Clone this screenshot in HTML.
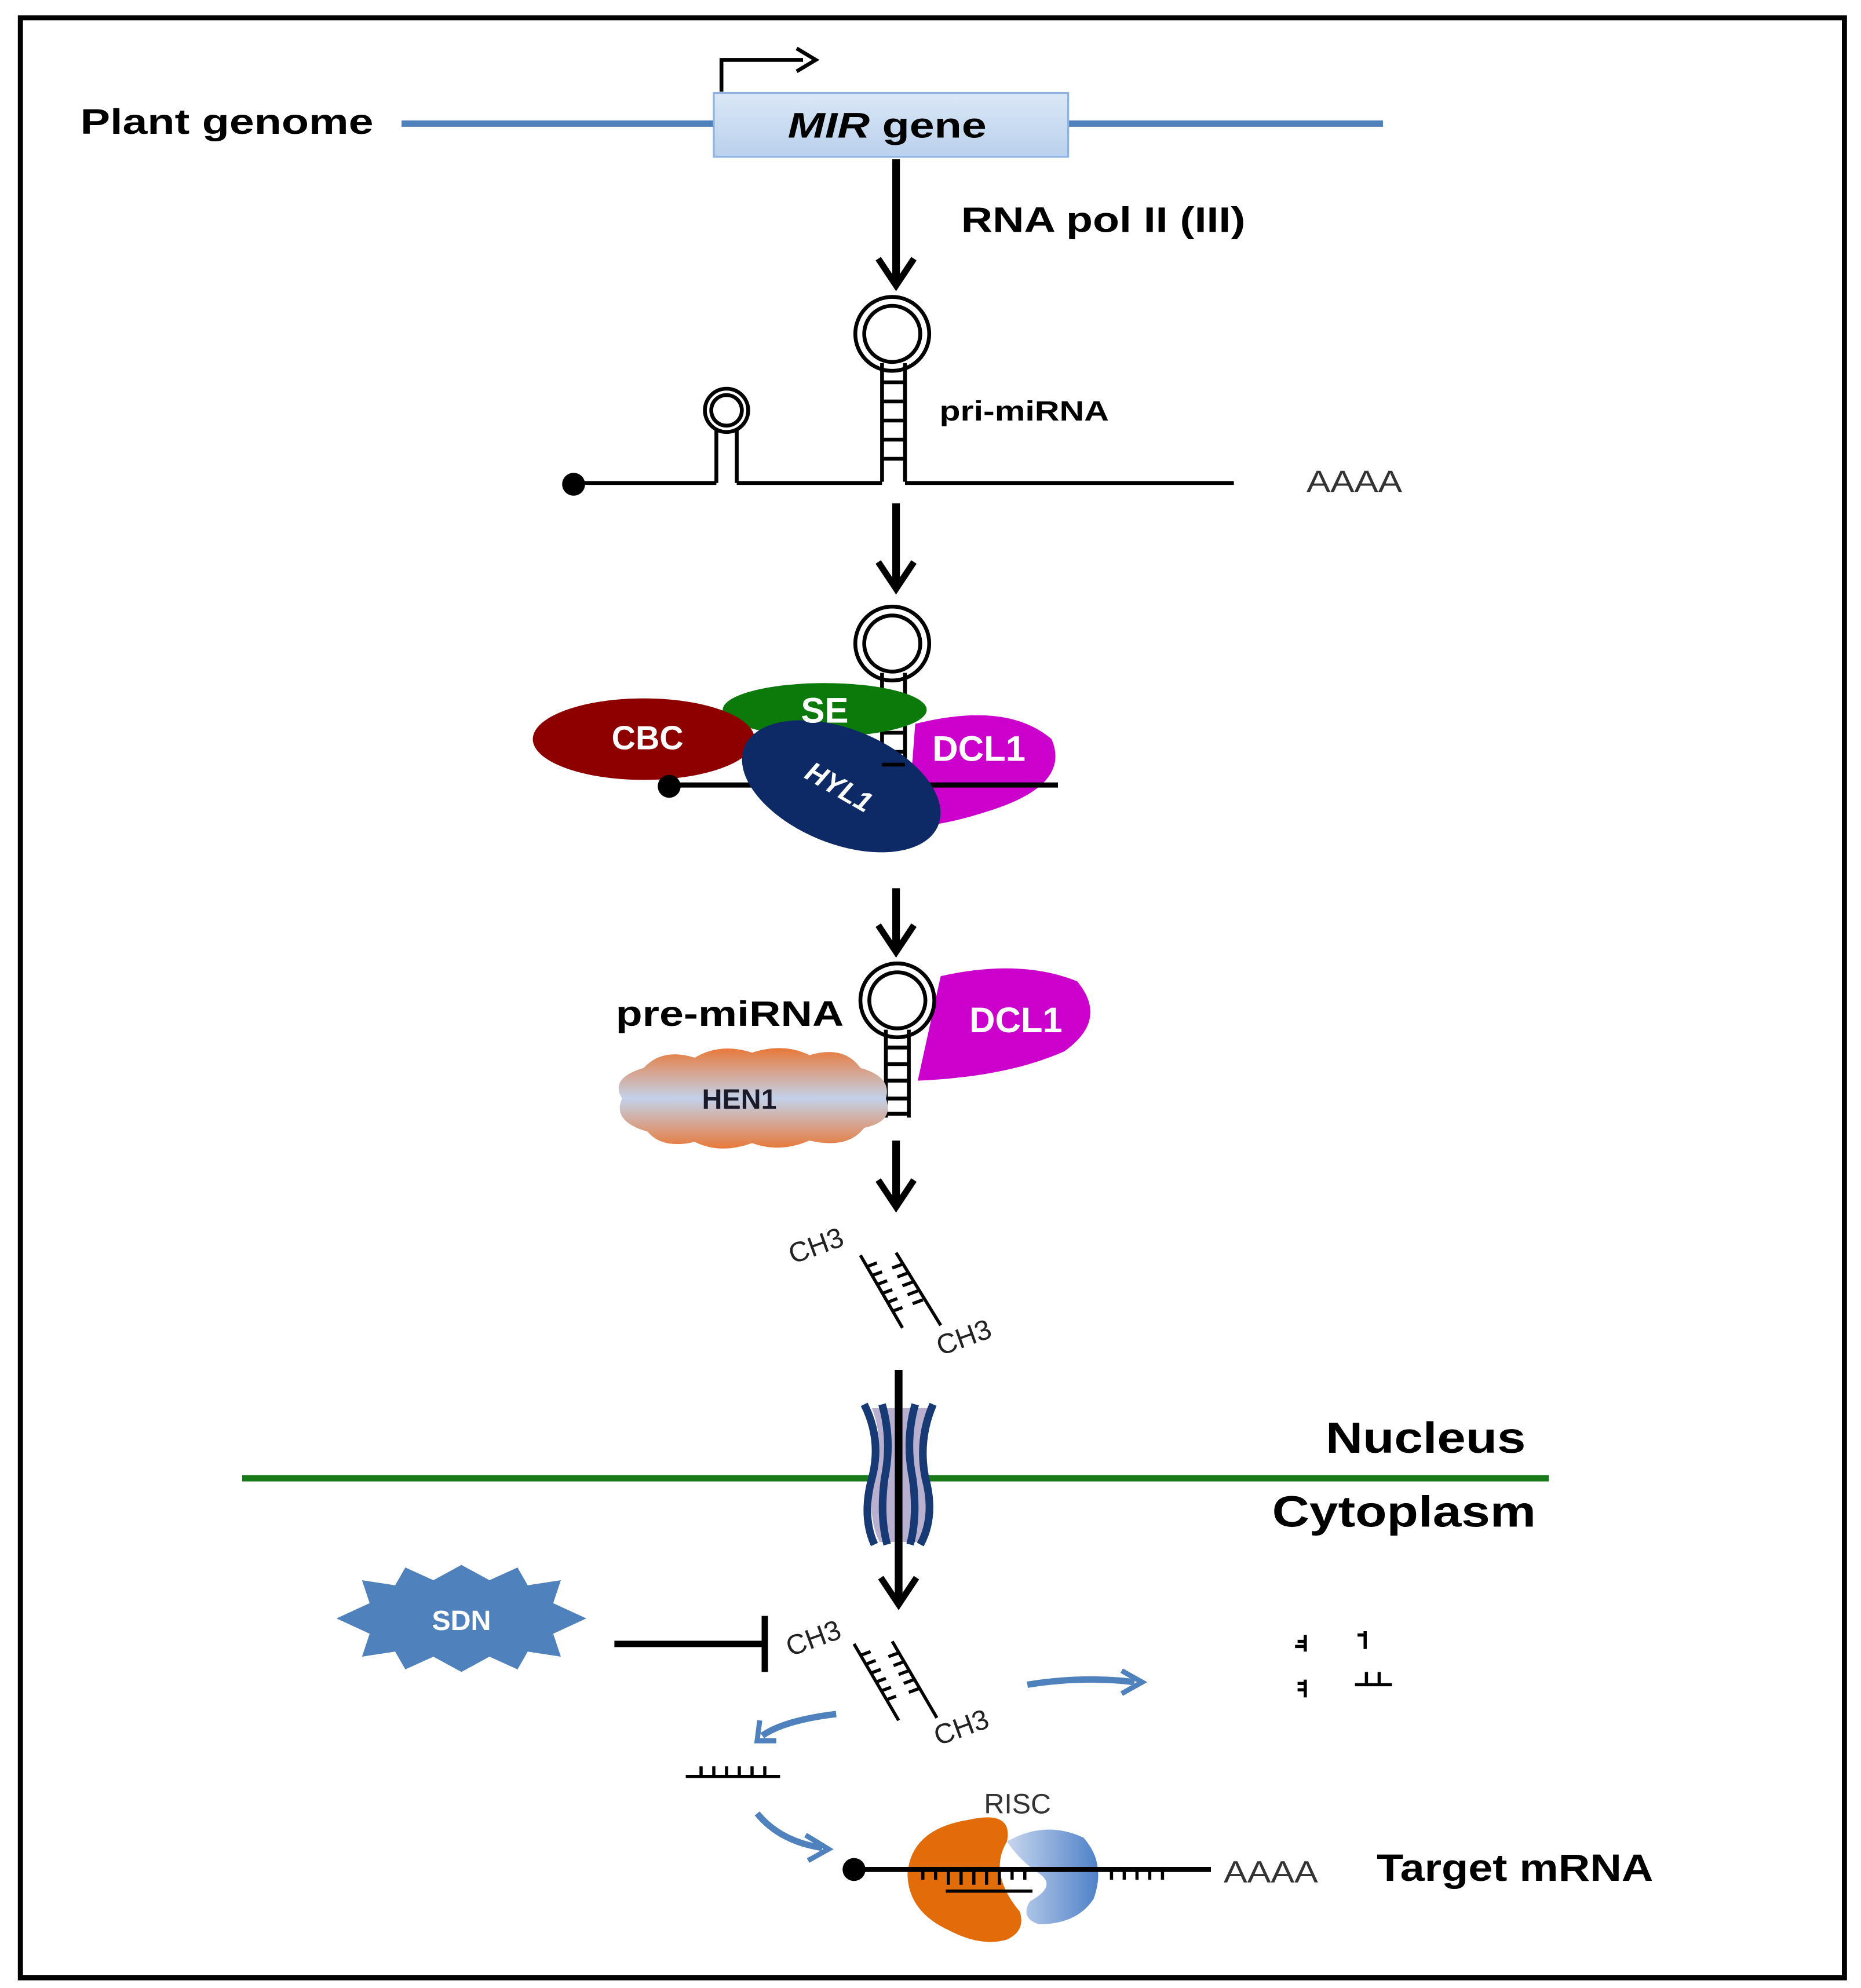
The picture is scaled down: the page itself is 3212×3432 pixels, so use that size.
<!DOCTYPE html>
<html><head><meta charset="utf-8"><style>html,body{margin:0;padding:0;background:#fff}svg{display:block}</style></head><body>
<svg width="3212" height="3432" viewBox="0 0 1460 1560" xmlns="http://www.w3.org/2000/svg" font-family="Liberation Sans, sans-serif">
<defs>
<linearGradient id="mir" x1="0" y1="0" x2="0" y2="1"><stop offset="0" stop-color="#dbe8f6"/><stop offset="1" stop-color="#b9d0ec"/></linearGradient>
<linearGradient id="hen" x1="0" y1="0" x2="0" y2="1"><stop offset="0" stop-color="#e8793a"/><stop offset="0.5" stop-color="#c3d2ea"/><stop offset="1" stop-color="#e8793a"/></linearGradient>
<linearGradient id="risc" x1="0" y1="0" x2="1" y2="0"><stop offset="0" stop-color="#c7d6ee"/><stop offset="1" stop-color="#4f81c9"/></linearGradient>
</defs>
<rect x="16" y="14" width="1431" height="1538" fill="#fff" stroke="#000" stroke-width="4"/>
<text x="63" y="105" font-size="28" font-weight="bold" textLength="230" lengthAdjust="spacingAndGlyphs">Plant genome</text>
<line x1="315" y1="97" x2="1085" y2="97" stroke="#4f81bd" stroke-width="5"/>
<rect x="560" y="73" width="278" height="50" fill="url(#mir)" stroke="#8eb4e3" stroke-width="1.5"/>
<text x="618" y="108" font-size="28" font-weight="bold" textLength="156" lengthAdjust="spacingAndGlyphs"><tspan font-style="italic">MIR</tspan> gene</text>
<path d="M566,72 V47 H630" fill="none" stroke="#000" stroke-width="3"/>
<path d="M625,38 L640,47 L625,56" fill="none" stroke="#000" stroke-width="3"/>
<g stroke="#000" stroke-width="6" fill="none">
<line x1="703" y1="125" x2="703" y2="222"/><path d="M689,203 L703,224 L717,203" stroke-width="5"/>
<line x1="703" y1="395" x2="703" y2="460"/><path d="M689,441 L703,462 L717,441" stroke-width="5"/>
<line x1="703" y1="697" x2="703" y2="745"/><path d="M689,726 L703,747 L717,726" stroke-width="5"/>
<line x1="703" y1="895" x2="703" y2="945"/><path d="M689,926 L703,947 L717,926" stroke-width="5"/>
<line x1="705" y1="1075" x2="705" y2="1255"/><path d="M691,1238 L705,1259 L719,1238" stroke-width="5"/>
</g>
<text x="754" y="182" font-size="28" font-weight="bold" textLength="223" lengthAdjust="spacingAndGlyphs">RNA  pol II (III)</text>
<g stroke="#000" fill="none" stroke-width="3">
<circle cx="700" cy="262" r="29"/><circle cx="700" cy="262" r="22"/>
<path d="M692,285 V378 M710,285 V378"/>
<path d="M692,300 H710 M692,315 H710 M692,330 H710 M692,345 H710 M692,360 H710"/>
<line x1="450" y1="379" x2="562" y2="379"/><line x1="578" y1="379" x2="692" y2="379"/><line x1="710" y1="379" x2="968" y2="379"/>
<circle cx="570" cy="322" r="17"/><circle cx="570" cy="322" r="12"/>
<path d="M562,336 V379 M578,336 V379"/>
</g>
<circle cx="450" cy="380" r="9"/>
<text x="737" y="330" font-size="22" font-weight="bold" textLength="133" lengthAdjust="spacingAndGlyphs">pri-miRNA</text>
<text x="1025" y="386" font-size="24" fill="#333" textLength="75" lengthAdjust="spacingAndGlyphs">AAAA</text>
<g stroke="#000" fill="none" stroke-width="3">
<circle cx="700" cy="505" r="29"/><circle cx="700" cy="505" r="22"/>
<path d="M692,528 V600 M710,528 V600 M692,545 H710 M692,560 H710 M692,575 H710 M692,590 H710"/>
</g>
<ellipse cx="647" cy="557" rx="80" ry="21" fill="#0b7a0b"/>
<ellipse cx="505" cy="580" rx="87" ry="32" fill="#8e0000"/>
<path d="M718,568 Q790,550 825,580 Q840,615 780,635 Q735,650 712,648 Z" fill="#cc00cc"/>
<line x1="525" y1="616" x2="830" y2="616" stroke="#000" stroke-width="4"/>
<circle cx="525" cy="617" r="9"/>
<ellipse cx="660" cy="617" rx="82" ry="45" fill="#0d2a66" transform="rotate(22 660 617)"/>
<line x1="692" y1="600" x2="710" y2="600" stroke="#000" stroke-width="3"/>
<text x="647" y="567" font-size="28" font-weight="bold" fill="#fff" text-anchor="middle">SE</text>
<text x="508" y="588" font-size="26" font-weight="bold" fill="#fff" text-anchor="middle">CBC</text>
<text x="768" y="597" font-size="28" font-weight="bold" fill="#fff" text-anchor="middle">DCL1</text>
<text x="658" y="625" font-size="22" font-weight="bold" font-style="italic" fill="#fff" text-anchor="middle" transform="rotate(30 658 618)">HYL1</text>
<path d="M738,766 Q800,752 845,770 Q870,800 835,825 Q790,845 720,848 Z" fill="#cc00cc"/>
<g stroke="#000" fill="none" stroke-width="3">
<circle cx="704" cy="785" r="29"/><circle cx="704" cy="785" r="22"/>
<path d="M695,808 V877 M713,808 V877 M695,822 H713 M695,835 H713 M695,848 H713 M695,862 H713 M695,874 H713"/>
</g>
<text x="797" y="810" font-size="28" font-weight="bold" fill="#fff" text-anchor="middle">DCL1</text>
<text x="483" y="805" font-size="28" font-weight="bold" textLength="179" lengthAdjust="spacingAndGlyphs">pre-miRNA</text>
<path d="M505,838 Q520,822 545,830 Q565,818 590,826 Q615,818 635,828 Q662,820 675,838 Q700,845 695,862 Q702,880 678,885 Q665,902 635,895 Q612,905 590,897 Q565,906 545,896 Q520,902 508,888 Q480,880 488,862 Q478,846 505,838 Z" fill="url(#hen)"/>
<text x="580" y="870" font-size="22" font-weight="bold" fill="#1a1a2a" text-anchor="middle">HEN1</text>
<g stroke="#000" stroke-width="2.5" fill="none">
<line x1="675" y1="985" x2="708" y2="1042"/><line x1="703" y1="983" x2="738" y2="1040"/>
<path d="M680,994 l8,-3 M684,1001 l8,-3 M688,1008 l8,-3 M692,1015 l8,-3 M696,1022 l8,-3 M700,1029 l8,-3"/>
<path d="M708,992 l-8,3 M712,999 l-8,3 M716,1006 l-8,3 M720,1013 l-8,3 M724,1020 l-8,3"/>
</g>
<text x="622" y="992" font-size="22" fill="#222" transform="rotate(-20 622 992)">CH3</text>
<text x="738" y="1064" font-size="22" fill="#222" transform="rotate(-20 738 1064)">CH3</text>
<line x1="190" y1="1160" x2="1215" y2="1160" stroke="#1a7a1a" stroke-width="5"/>
<path d="M684,1105 Q694,1130 686,1160 Q680,1190 690,1210 L724,1210 Q732,1190 726,1160 Q720,1130 730,1105 Z" fill="#b9b0d0"/>
<g stroke="#173a75" stroke-width="6" fill="none">
<path d="M678,1102 Q692,1130 684,1160 Q676,1190 686,1212"/>
<path d="M692,1102 Q700,1130 694,1160 Q690,1190 696,1212"/>
<path d="M732,1102 Q720,1130 726,1160 Q734,1190 722,1212"/>
<path d="M718,1102 Q710,1130 716,1160 Q720,1190 714,1212"/>
</g>
<line x1="705" y1="1075" x2="705" y2="1255" stroke="#000" stroke-width="6"/>
<text x="1040" y="1140" font-size="34" font-weight="bold" textLength="157" lengthAdjust="spacingAndGlyphs">Nucleus</text>
<text x="998" y="1198" font-size="34" font-weight="bold" textLength="207" lengthAdjust="spacingAndGlyphs">Cytoplasm</text>
<path d="M264,1270 L290,1258 L284,1240 L310,1244 L318,1230 L340,1240 L362,1228 L384,1240 L406,1230 L414,1244 L440,1240 L434,1258 L460,1270 L434,1282 L440,1300 L414,1296 L406,1310 L384,1300 L362,1312 L340,1300 L318,1310 L310,1296 L284,1300 L290,1282 Z" fill="#4f81bd"/>
<text x="362" y="1279" font-size="22" font-weight="bold" fill="#fff" text-anchor="middle">SDN</text>
<path d="M482,1290 H600 M600,1268 V1312" stroke="#000" stroke-width="5" fill="none"/>
<g stroke="#000" stroke-width="2.5" fill="none">
<line x1="670" y1="1290" x2="705" y2="1350"/><line x1="700" y1="1288" x2="735" y2="1348"/>
<path d="M675,1299 l8,-3 M679,1306 l8,-3 M683,1313 l8,-3 M687,1320 l8,-3 M691,1327 l8,-3 M695,1334 l8,-3"/>
<path d="M705,1297 l-8,3 M709,1304 l-8,3 M713,1311 l-8,3 M717,1318 l-8,3 M721,1325 l-8,3"/>
</g>
<text x="620" y="1300" font-size="22" fill="#222" transform="rotate(-20 620 1300)">CH3</text>
<text x="736" y="1370" font-size="22" fill="#222" transform="rotate(-20 736 1370)">CH3</text>
<g stroke="#4f81bd" stroke-width="5" fill="none">
<path d="M806,1322 Q850,1315 890,1320"/><path d="M880,1311 L896,1320 L880,1329" stroke-width="4"/>
<path d="M656,1345 Q615,1350 598,1362"/><path d="M596,1350 L594,1366 L609,1366" stroke-width="4"/>
<path d="M594,1423 Q612,1445 645,1450"/><path d="M632,1440 L650,1451 L634,1460" stroke-width="4"/>
</g>
<g stroke="#000" stroke-width="2.5" fill="none">
<path d="M1024,1283 V1296 M1018,1288 H1024 M1016,1292 H1024"/>
<path d="M1071,1280 V1294 M1065,1283 H1071"/>
<path d="M1024,1318 V1332 M1018,1321 H1024 M1018,1326 H1024"/>
<path d="M1063,1322 H1092 M1072,1312 V1322 M1082,1312 V1322"/>
</g>
<path d="M538,1394 H612 M550,1394 v-8 M560,1394 v-8 M570,1394 v-8 M580,1394 v-8 M590,1394 v-8 M600,1394 v-8" stroke="#000" stroke-width="2.5"/>
<path d="M760,1428 Q795,1420 790,1445 Q775,1470 800,1500 Q805,1515 790,1522 Q770,1528 745,1515 Q712,1500 712,1470 Q715,1435 760,1428 Z" fill="#e36c0a"/>
<path d="M790,1445 Q820,1428 850,1442 Q868,1462 858,1490 Q845,1510 815,1510 Q800,1505 808,1492 Q830,1480 815,1470 Q800,1460 790,1445 Z" fill="url(#risc)"/>
<text x="772" y="1423" font-size="22" fill="#333">RISC</text>
<line x1="670" y1="1467" x2="950" y2="1467" stroke="#000" stroke-width="4"/>
<circle cx="670" cy="1467" r="9"/>
<g stroke="#000" stroke-width="2.5">
<path d="M724,1467 v8 M734,1467 v8 M744,1467 v12 M754,1467 v12 M764,1467 v12 M774,1467 v12 M784,1467 v12 M794,1467 v8 M804,1467 v8 M872,1467 v8 M882,1467 v8 M892,1467 v8 M902,1467 v8 M912,1467 v8"/>
<line x1="742" y1="1484" x2="810" y2="1484"/>
</g>
<text x="960" y="1477" font-size="24" fill="#333" textLength="74" lengthAdjust="spacingAndGlyphs">AAAA</text>
<text x="1080" y="1476" font-size="30" font-weight="bold" textLength="217" lengthAdjust="spacingAndGlyphs">Target mRNA</text>
</svg>
</body></html>
